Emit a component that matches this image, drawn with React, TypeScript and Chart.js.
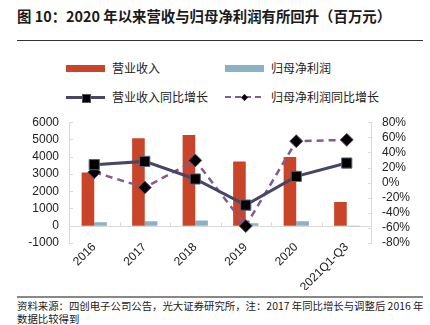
import React, { useEffect, useRef } from 'react';
import { Chart, registerables } from 'chart.js';

Chart.register(...registerables);

const categories = ['2016', '2017', '2018', '2019', '2020', '2021Q1-Q3'];
const revenue = [3080, 5070, 5260, 3720, 3990, 1370];
const netProfit = [200, 260, 310, 150, 260, -30];
const revenueYoY = [23.8, 28.1, 4.8, -29.8, 8.2, 25.9];
const profitYoY = [13.8, -6.5, 29.4, -57.5, 54.9, 56.6];
const leftMin = -1000;
const leftMax = 6000;
const leftStep = 1000;
const rightMin = -80;
const rightMax = 80;
const rightStep = 20;

const seriesNames = ['营业收入', '归母净利润', '营业收入同比增长', '归母净利润同比增长'];

const RED = '#C8452A';
const BLUE = '#8AB2C6';
const NAVY = '#464667';
const PURPLE = '#855A93';
const AXIS = '#d9d9d9';
const FONT = '"Liberation Sans", Arial, sans-serif';
const CJK = '"Noto Sans CJK SC", "Noto Sans", sans-serif';

const decor = {
  id: 'decor',
  beforeDatasetsDraw(chart: any) {
    const { ctx, chartArea, scales } = chart;
    const { left, right, top, bottom } = chartArea;
    const y = scales.y;
    const y1 = scales.y1;
    const x = scales.x;
    ctx.save();
    ctx.strokeStyle = AXIS;
    ctx.lineWidth = 1;
    ctx.beginPath();
    ctx.moveTo(Math.round(left) + 0.5, top);
    ctx.lineTo(Math.round(left) + 0.5, bottom);
    y.ticks.forEach((t: any) => {
      const py = Math.round(y.getPixelForValue(t.value)) + 0.5;
      ctx.moveTo(left, py);
      ctx.lineTo(left + 4, py);
    });
    ctx.moveTo(Math.round(right) - 0.5, top);
    ctx.lineTo(Math.round(right) - 0.5, bottom);
    y1.ticks.forEach((t: any) => {
      const py = Math.round(y1.getPixelForValue(t.value)) + 0.5;
      ctx.moveTo(right, py);
      ctx.lineTo(right - 4, py);
    });
    const zy = Math.round(y.getPixelForValue(0)) + 0.5;
    ctx.moveTo(left, zy);
    ctx.lineTo(right, zy);
    const n = x.ticks.length;
    for (let i = 0; i < n - 1; i++) {
      const bx = Math.round((x.getPixelForTick(i) + x.getPixelForTick(i + 1)) / 2) + 0.5;
      ctx.moveTo(bx, zy);
      ctx.lineTo(bx, zy - 4);
    }
    ctx.stroke();
    ctx.restore();
  },
};

function LegendSwatch({ kind }: { kind: number }) {
  if (kind === 0 || kind === 1) {
    return <div style={{ width: 39, height: 7, background: kind === 0 ? RED : BLUE }} />;
  }
  if (kind === 2) {
    return (
      <div style={{ position: 'relative', width: 39, height: 12 }}>
        <div style={{ position: 'absolute', left: 0, top: 5, width: 39, height: 2.5, background: NAVY }} />
        <div style={{ position: 'absolute', left: 16, top: 3, width: 7, height: 7, background: '#000', border: '0.5px solid #555' }} />
      </div>
    );
  }
  return (
    <div style={{ position: 'relative', width: 39, height: 12 }}>
      <div
        style={{
          position: 'absolute',
          left: 0,
          top: 5,
          width: 39,
          height: 2,
          backgroundImage: `repeating-linear-gradient(90deg, ${PURPLE} 0 6px, transparent 6px 10px)`,
        }}
      />
      <div style={{ position: 'absolute', left: 17, top: 3.5, width: 5, height: 5, background: '#000', transform: 'rotate(45deg)' }} />
    </div>
  );
}

export default function App() {
  const ref = useRef<HTMLCanvasElement>(null);

  useEffect(() => {
    const canvas = ref.current;
    if (!canvas) return;
    const chart = new Chart(canvas, {
      type: 'bar',
      data: {
        labels: categories,
        datasets: [
          {
            type: 'line',
            label: seriesNames[2],
            data: revenueYoY,
            yAxisID: 'y1',
            borderColor: NAVY,
            borderWidth: 3,
            pointStyle: 'rect',
            pointRadius: 7.2,
            pointBackgroundColor: '#000',
            pointBorderColor: '#5d5d7d',
            pointBorderWidth: 1,
            tension: 0,
            order: 0,
          } as any,
          {
            type: 'line',
            label: seriesNames[3],
            data: profitYoY,
            yAxisID: 'y1',
            borderColor: PURPLE,
            borderWidth: 2.5,
            borderDash: [7, 5],
            pointStyle: 'rectRot',
            pointRadius: 6.5,
            pointBackgroundColor: '#000',
            pointBorderColor: '#6e4a7a',
            pointBorderWidth: 1,
            tension: 0,
            order: 1,
          } as any,
          {
            type: 'bar',
            label: seriesNames[0],
            data: revenue,
            yAxisID: 'y',
            backgroundColor: RED,
            categoryPercentage: 0.5,
            barPercentage: 1,
            order: 2,
          },
          {
            type: 'bar',
            label: seriesNames[1],
            data: netProfit,
            yAxisID: 'y',
            backgroundColor: BLUE,
            categoryPercentage: 0.5,
            barPercentage: 1,
            order: 3,
          },
        ],
      },
      options: {
        animation: false,
        responsive: false,
        maintainAspectRatio: false,
        layout: { padding: { top: 14, left: 0, right: 0, bottom: 0 } },
        plugins: {
          legend: { display: false },
          tooltip: { enabled: false },
          title: { display: false },
        },
        scales: {
          x: {
            offset: true,
            grid: { display: false, drawTicks: false },
            border: { display: false },
            ticks: {
              color: '#222',
              font: { family: FONT, size: 12 },
              maxRotation: 45,
              minRotation: 45,
              padding: -3,
              autoSkip: false,
            },
            afterFit: (s: any) => {
              s.height = 47;
            },
          },
          y: {
            position: 'left',
            min: leftMin,
            max: leftMax,
            grid: { display: false, drawTicks: false },
            border: { display: false },
            ticks: {
              stepSize: leftStep,
              autoSkip: false,
              color: '#222',
              font: { family: FONT, size: 12 },
              padding: 10,
              callback: (v: any) => String(v),
            },
            afterFit: (s: any) => {
              s.width = 69;
            },
          },
          y1: {
            position: 'right',
            min: rightMin,
            max: rightMax,
            grid: { display: false, drawTicks: false },
            border: { display: false },
            ticks: {
              stepSize: rightStep,
              autoSkip: false,
              color: '#222',
              font: { family: FONT, size: 12 },
              padding: 10,
              callback: (v: any) => `${v}%`,
            },
            afterFit: (s: any) => {
              s.width = 58;
            },
          },
        },
      },
      plugins: [decor],
    });
    return () => chart.destroy();
  }, []);

  const legendItem = (kind: number, left: number, top: number) => (
    <div
      key={kind}
      style={{ position: 'absolute', left, top, height: 16, display: 'flex', alignItems: 'center', gap: 7 }}
    >
      <LegendSwatch kind={kind} />
      <span style={{ fontFamily: CJK, fontSize: 12, color: '#222', lineHeight: '16px', whiteSpace: 'nowrap' }}>
        {seriesNames[kind]}
      </span>
    </div>
  );

  return (
    <div
      style={{ position: 'fixed', left: 0, top: 0, width: 430, height: 325, background: '#fff', overflow: 'hidden' }}
    >
      <div
        style={{
          position: 'absolute',
          left: 17,
          top: 6,
          fontFamily: CJK,
          fontSize: 14.4,
          fontWeight: 700,
          color: '#1a1a1a',
          lineHeight: '20px',
          whiteSpace: 'nowrap',
        }}
      >
        图 10：2020 年以来营收与归母净利润有所回升（百万元）
      </div>
      <div style={{ position: 'absolute', left: 17, top: 40, width: 406, height: 1, background: '#333' }} />
      {legendItem(0, 66, 60)}
      {legendItem(1, 225, 60)}
      {legendItem(2, 66, 89)}
      {legendItem(3, 225, 89)}
      <canvas
        ref={ref}
        width={430}
        height={185}
        style={{ position: 'absolute', left: 0, top: 105, width: 430, height: 185 }}
      />
      <div style={{ position: 'absolute', left: 17, top: 296, width: 406, height: 2, background: '#888' }} />
      <div
        style={{
          position: 'absolute',
          left: 17,
          top: 299,
          width: 410,
          fontFamily: CJK,
          fontSize: 10.4,
          color: '#1a1a1a',
          lineHeight: '13px',
        }}
      >
        资料来源：四创电子公司公告，光大证券研究所，注：2017 年同比增长与调整后 2016 年
        <br />
        数据比较得到
      </div>
    </div>
  );
}
